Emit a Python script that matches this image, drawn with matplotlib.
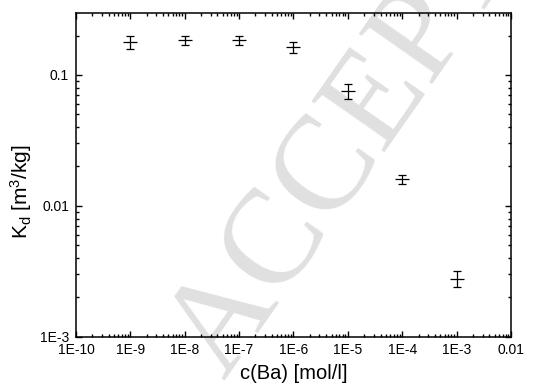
import matplotlib
matplotlib.use("Agg")
import matplotlib.pyplot as plt
from matplotlib.ticker import FixedLocator, FixedFormatter, LogLocator, NullFormatter

plt.rcParams['font.family'] = ['Liberation Sans', 'DejaVu Sans']
plt.rcParams['mathtext.default'] = 'regular'

# data
conc = [1e-9, 1e-8, 1e-7, 1e-6, 1e-5, 1e-4, 1e-3]
kd = [0.178, 0.184, 0.184, 0.163, 0.0759, 0.0161, 0.00277]
kd_err_low = [0.020, 0.015, 0.016, 0.017, 0.010, 0.0014, 0.00039]
kd_err_high = [0.021, 0.016, 0.016, 0.016, 0.009, 0.0012, 0.00042]

x_ticks = [1e-10, 1e-9, 1e-8, 1e-7, 1e-6, 1e-5, 1e-4, 1e-3, 1e-2]
x_ticklabels = ['1E-10', '1E-9', '1E-8', '1E-7', '1E-6', '1E-5', '1E-4', '1E-3', '0.01']
y_ticks = [1e-3, 1e-2, 1e-1]
y_ticklabels = ['1E-3', '0.01', '0.1']

fig = plt.figure(figsize=(5.33, 3.91), dpi=100)

# watermark
wm = fig.text(0.745, 0.805, 'ACCEPTED', fontsize=97, color='#e0e0e0',
              family=['Liberation Serif'], rotation=55, rotation_mode='anchor',
              ha='center', va='center', zorder=-5)

ax = fig.add_axes([0.1426, 0.1389, 0.8161, 0.8271])
ax.set_zorder(2)
ax.set_facecolor('none')
ax.set_xscale('log')
ax.set_yscale('log')
ax.set_xlim(1e-10, 1e-2)
ax.set_ylim(1e-3, 0.296)

ax.errorbar(conc, kd, yerr=[kd_err_low, kd_err_high], fmt='_', color='black',
            markersize=9.5, markeredgewidth=0.9, elinewidth=0.9, capsize=2.9,
            capthick=0.9, zorder=5)

ax.xaxis.set_major_locator(FixedLocator(x_ticks))
ax.xaxis.set_major_formatter(FixedFormatter(x_ticklabels))
ax.yaxis.set_major_locator(FixedLocator(y_ticks))
ax.yaxis.set_major_formatter(FixedFormatter(y_ticklabels))
ax.xaxis.set_minor_locator(LogLocator(base=10, subs=range(2, 10), numticks=20))
ax.yaxis.set_minor_locator(LogLocator(base=10, subs=range(2, 10), numticks=20))
ax.xaxis.set_minor_formatter(NullFormatter())
ax.yaxis.set_minor_formatter(NullFormatter())

ax.tick_params(which='both', direction='in', top=True, right=True, width=1.0)
ax.tick_params(which='major', length=4)
ax.tick_params(which='minor', length=2.2)
ax.tick_params(axis='x', which='major', labelsize=10, pad=4.5)
ax.tick_params(axis='y', which='major', labelsize=10, pad=5)
for s in ax.spines.values():
    s.set_linewidth(1.1)

ax.set_xlabel('c(Ba) [mol/l]', fontsize=14.5, labelpad=5)
ax.set_ylabel(r'K$_d$ [m$^3$/kg]', fontsize=15)
ax.yaxis.set_label_coords(-0.097, 0.45)

fig.savefig('out.png', dpi=100)
